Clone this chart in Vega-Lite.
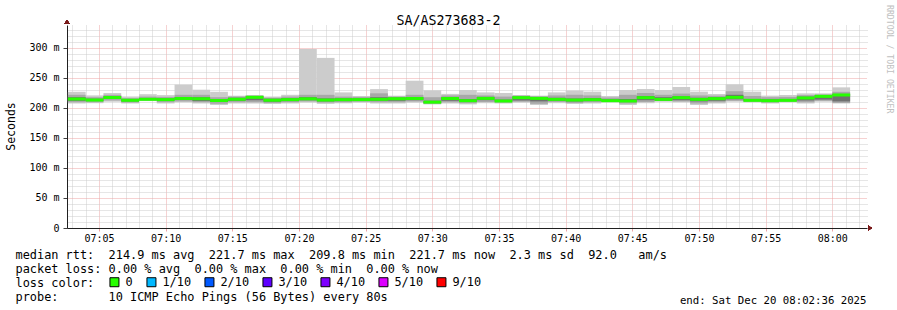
{
  "$schema": "https://vega.github.io/schema/vega-lite/v6.json",
  "width": 800,
  "height": 203,
  "autosize": {"type": "none"},
  "padding": {"left": 67, "top": 25, "right": 30, "bottom": 82},
  "background": "white",
  "title": {
    "text": "RRDTOOL / TOBI OETIKER",
    "orient": "right",
    "anchor": "start",
    "frame": "group",
    "angle": 90,
    "dx": -20,
    "offset": 13,
    "font": "DejaVu Sans Mono",
    "fontSize": 8.2,
    "fontWeight": "normal",
    "color": "#c0c0c0"
  },
  "config": {
    "view": {"stroke": null},
    "axis": {"titleFontWeight": "normal", "titleFont": "DejaVu Sans Mono", "labelFont": "DejaVu Sans Mono", "titleColor": "black", "labelColor": "black"}
  },
  "resolve": {"axis": {"x": "independent", "y": "independent"}},
  "data": {
    "values": [
      {"t": "2025-12-20T07:02:40Z", "t2": "2025-12-20T07:04:00Z", "lo1": 207.5, "lo2": 209.5, "lo3": 212, "med": 215, "hi3": 218, "hi2": 222, "hi1": 227, "loss": "0"},
      {"t": "2025-12-20T07:04:00Z", "t2": "2025-12-20T07:05:20Z", "lo1": 208, "lo2": 209.5, "lo3": 211.5, "med": 213.5, "hi3": 215.5, "hi2": 218, "hi1": 221, "loss": "0"},
      {"t": "2025-12-20T07:05:20Z", "t2": "2025-12-20T07:06:40Z", "lo1": 210.5, "lo2": 212.5, "lo3": 215, "med": 217.5, "hi3": 219.5, "hi2": 222, "hi1": 225, "loss": "0"},
      {"t": "2025-12-20T07:06:40Z", "t2": "2025-12-20T07:08:00Z", "lo1": 207.5, "lo2": 209, "lo3": 211, "med": 212.8, "hi3": 214.5, "hi2": 216.5, "hi1": 218.5, "loss": "0"},
      {"t": "2025-12-20T07:08:00Z", "t2": "2025-12-20T07:09:20Z", "lo1": 211.5, "lo2": 212.5, "lo3": 213.5, "med": 214.5, "hi3": 216, "hi2": 219, "hi1": 223, "loss": "0"},
      {"t": "2025-12-20T07:09:20Z", "t2": "2025-12-20T07:10:40Z", "lo1": 207.5, "lo2": 209.5, "lo3": 212, "med": 214, "hi3": 216, "hi2": 218.5, "hi1": 221.5, "loss": "0"},
      {"t": "2025-12-20T07:10:40Z", "t2": "2025-12-20T07:12:00Z", "lo1": 209.5, "lo2": 211, "lo3": 213.5, "med": 215.8, "hi3": 218, "hi2": 222, "hi1": 239, "loss": "0"},
      {"t": "2025-12-20T07:12:00Z", "t2": "2025-12-20T07:13:20Z", "lo1": 207.5, "lo2": 209.5, "lo3": 211.5, "med": 215.5, "hi3": 218, "hi2": 222, "hi1": 230.5, "loss": "0"},
      {"t": "2025-12-20T07:13:20Z", "t2": "2025-12-20T07:14:40Z", "lo1": 205, "lo2": 207, "lo3": 210, "med": 212.5, "hi3": 214.5, "hi2": 218, "hi1": 227, "loss": "0"},
      {"t": "2025-12-20T07:14:40Z", "t2": "2025-12-20T07:16:00Z", "lo1": 207.5, "lo2": 209.5, "lo3": 212, "med": 214.6, "hi3": 217, "hi2": 219, "hi1": 220.5, "loss": "0"},
      {"t": "2025-12-20T07:16:00Z", "t2": "2025-12-20T07:17:20Z", "lo1": 207.5, "lo2": 209.5, "lo3": 213, "med": 217.8, "hi3": 219.5, "hi2": 220.5, "hi1": 221.5, "loss": "0"},
      {"t": "2025-12-20T07:17:20Z", "t2": "2025-12-20T07:18:40Z", "lo1": 206.8, "lo2": 208.5, "lo3": 210.5, "med": 213, "hi3": 215.5, "hi2": 217, "hi1": 218.5, "loss": "0"},
      {"t": "2025-12-20T07:18:40Z", "t2": "2025-12-20T07:20:00Z", "lo1": 207.5, "lo2": 209.5, "lo3": 211.5, "med": 214, "hi3": 216.5, "hi2": 219, "hi1": 222, "loss": "0"},
      {"t": "2025-12-20T07:20:00Z", "t2": "2025-12-20T07:21:20Z", "lo1": 209, "lo2": 211, "lo3": 213, "med": 215.3, "hi3": 218, "hi2": 222, "hi1": 298.5, "loss": "0"},
      {"t": "2025-12-20T07:21:20Z", "t2": "2025-12-20T07:22:40Z", "lo1": 206.8, "lo2": 209, "lo3": 211, "med": 213.5, "hi3": 216, "hi2": 222, "hi1": 283.5, "loss": "0"},
      {"t": "2025-12-20T07:22:40Z", "t2": "2025-12-20T07:24:00Z", "lo1": 207.8, "lo2": 209.5, "lo3": 211.5, "med": 213.9, "hi3": 216, "hi2": 219, "hi1": 226, "loss": "0"},
      {"t": "2025-12-20T07:24:00Z", "t2": "2025-12-20T07:25:20Z", "lo1": 209, "lo2": 210.5, "lo3": 212, "med": 214, "hi3": 216, "hi2": 218.5, "hi1": 220, "loss": "0"},
      {"t": "2025-12-20T07:25:20Z", "t2": "2025-12-20T07:26:40Z", "lo1": 207.5, "lo2": 209.5, "lo3": 212, "med": 214.5, "hi3": 218, "hi2": 224.5, "hi1": 231.5, "loss": "0"},
      {"t": "2025-12-20T07:26:40Z", "t2": "2025-12-20T07:28:00Z", "lo1": 207.5, "lo2": 209.5, "lo3": 212, "med": 215.4, "hi3": 217.5, "hi2": 219, "hi1": 220.5, "loss": "0"},
      {"t": "2025-12-20T07:28:00Z", "t2": "2025-12-20T07:29:20Z", "lo1": 209, "lo2": 211, "lo3": 213, "med": 215.8, "hi3": 218, "hi2": 222, "hi1": 245.5, "loss": "0"},
      {"t": "2025-12-20T07:29:20Z", "t2": "2025-12-20T07:30:40Z", "lo1": 206, "lo2": 207, "lo3": 208.2, "med": 209.8, "hi3": 212, "hi2": 218, "hi1": 229.5, "loss": "0"},
      {"t": "2025-12-20T07:30:40Z", "t2": "2025-12-20T07:32:00Z", "lo1": 207.5, "lo2": 209.5, "lo3": 212, "med": 215.8, "hi3": 218, "hi2": 221, "hi1": 223.5, "loss": "0"},
      {"t": "2025-12-20T07:32:00Z", "t2": "2025-12-20T07:33:20Z", "lo1": 206, "lo2": 208, "lo3": 210, "med": 212.2, "hi3": 215, "hi2": 222, "hi1": 230, "loss": "0"},
      {"t": "2025-12-20T07:33:20Z", "t2": "2025-12-20T07:34:40Z", "lo1": 208, "lo2": 210, "lo3": 213, "med": 216, "hi3": 218.5, "hi2": 221, "hi1": 226, "loss": "0"},
      {"t": "2025-12-20T07:34:40Z", "t2": "2025-12-20T07:36:00Z", "lo1": 207.5, "lo2": 209, "lo3": 210.5, "med": 211.7, "hi3": 214, "hi2": 219, "hi1": 225, "loss": "0"},
      {"t": "2025-12-20T07:36:00Z", "t2": "2025-12-20T07:37:20Z", "lo1": 209, "lo2": 210.5, "lo3": 212.5, "med": 217.2, "hi3": 219, "hi2": 220.5, "hi1": 221.7, "loss": "0"},
      {"t": "2025-12-20T07:37:20Z", "t2": "2025-12-20T07:38:40Z", "lo1": 205, "lo2": 207, "lo3": 211, "med": 216, "hi3": 218, "hi2": 219.5, "hi1": 220.6, "loss": "0"},
      {"t": "2025-12-20T07:38:40Z", "t2": "2025-12-20T07:40:00Z", "lo1": 208, "lo2": 210, "lo3": 212, "med": 214.4, "hi3": 217, "hi2": 221, "hi1": 226, "loss": "0"},
      {"t": "2025-12-20T07:40:00Z", "t2": "2025-12-20T07:41:20Z", "lo1": 206.5, "lo2": 208.5, "lo3": 211, "med": 213.3, "hi3": 216, "hi2": 222, "hi1": 229, "loss": "0"},
      {"t": "2025-12-20T07:41:20Z", "t2": "2025-12-20T07:42:40Z", "lo1": 207.5, "lo2": 209.5, "lo3": 211.5, "med": 213.9, "hi3": 216.5, "hi2": 221, "hi1": 227.2, "loss": "0"},
      {"t": "2025-12-20T07:42:40Z", "t2": "2025-12-20T07:44:00Z", "lo1": 209.5, "lo2": 210.5, "lo3": 211.5, "med": 212.2, "hi3": 214.5, "hi2": 217.5, "hi1": 220, "loss": "0"},
      {"t": "2025-12-20T07:44:00Z", "t2": "2025-12-20T07:45:20Z", "lo1": 205, "lo2": 207.5, "lo3": 210, "med": 211.7, "hi3": 215, "hi2": 222, "hi1": 230, "loss": "0"},
      {"t": "2025-12-20T07:45:20Z", "t2": "2025-12-20T07:46:40Z", "lo1": 208, "lo2": 210, "lo3": 213, "med": 217.2, "hi3": 220, "hi2": 225, "hi1": 231.7, "loss": "0"},
      {"t": "2025-12-20T07:46:40Z", "t2": "2025-12-20T07:48:00Z", "lo1": 210.5, "lo2": 211.5, "lo3": 212.5, "med": 214.4, "hi3": 218, "hi2": 222, "hi1": 230, "loss": "0"},
      {"t": "2025-12-20T07:48:00Z", "t2": "2025-12-20T07:49:20Z", "lo1": 209.5, "lo2": 211, "lo3": 213, "med": 217.2, "hi3": 219.5, "hi2": 224, "hi1": 235, "loss": "0"},
      {"t": "2025-12-20T07:49:20Z", "t2": "2025-12-20T07:50:40Z", "lo1": 205, "lo2": 207.5, "lo3": 211, "med": 214.4, "hi3": 217, "hi2": 221, "hi1": 227.2, "loss": "0"},
      {"t": "2025-12-20T07:50:40Z", "t2": "2025-12-20T07:52:00Z", "lo1": 207.5, "lo2": 209.5, "lo3": 212, "med": 215.6, "hi3": 218, "hi2": 220.5, "hi1": 223.3, "loss": "0"},
      {"t": "2025-12-20T07:52:00Z", "t2": "2025-12-20T07:53:20Z", "lo1": 210.5, "lo2": 212, "lo3": 214.5, "med": 217.8, "hi3": 222, "hi2": 228, "hi1": 239.4, "loss": "0"},
      {"t": "2025-12-20T07:53:20Z", "t2": "2025-12-20T07:54:40Z", "lo1": 209.5, "lo2": 210.5, "lo3": 211.5, "med": 212.8, "hi3": 215, "hi2": 220, "hi1": 227.2, "loss": "0"},
      {"t": "2025-12-20T07:54:40Z", "t2": "2025-12-20T07:56:00Z", "lo1": 207.5, "lo2": 209, "lo3": 210.5, "med": 212.2, "hi3": 214.5, "hi2": 218, "hi1": 220.6, "loss": "0"},
      {"t": "2025-12-20T07:56:00Z", "t2": "2025-12-20T07:57:20Z", "lo1": 209.5, "lo2": 210.5, "lo3": 211.5, "med": 212.8, "hi3": 215, "hi2": 218.5, "hi1": 221.7, "loss": "0"},
      {"t": "2025-12-20T07:57:20Z", "t2": "2025-12-20T07:58:40Z", "lo1": 207.5, "lo2": 209.5, "lo3": 212.5, "med": 216.7, "hi3": 219, "hi2": 221.5, "hi1": 224.4, "loss": "0"},
      {"t": "2025-12-20T07:58:40Z", "t2": "2025-12-20T08:00:00Z", "lo1": 210.5, "lo2": 212, "lo3": 214, "med": 219.4, "hi3": 221, "hi2": 222.5, "hi1": 224.4, "loss": "0"},
      {"t": "2025-12-20T08:00:00Z", "t2": "2025-12-20T08:01:20Z", "lo1": 207.5, "lo2": 208.5, "lo3": 211, "med": 221.7, "hi3": 223.5, "hi2": 227, "hi1": 234.4, "loss": "0"}
    ]
  },
  "layer": [
    {
      "mark": {"type": "rect", "color": "#cccccc", "opacity": 1},
      "encoding": {
        "x": {
          "field": "t", "type": "temporal",
          "scale": {"type": "utc", "domain": [1766214156000, 1766217756000]},
          "axis": {
            "orient": "top", "grid": true, "gridColor": "#cdcdcd", "gridDash": [1, 1], "gridWidth": 1,
            "values": [1766214180000, 1766214240000, 1766214360000, 1766214420000, 1766214480000, 1766214540000, 1766214660000, 1766214720000, 1766214780000, 1766214840000, 1766214960000, 1766215020000, 1766215080000, 1766215140000, 1766215260000, 1766215320000, 1766215380000, 1766215440000, 1766215560000, 1766215620000, 1766215680000, 1766215740000, 1766215860000, 1766215920000, 1766215980000, 1766216040000, 1766216160000, 1766216220000, 1766216280000, 1766216340000, 1766216460000, 1766216520000, 1766216580000, 1766216640000, 1766216760000, 1766216820000, 1766216880000, 1766216940000, 1766217060000, 1766217120000, 1766217180000, 1766217240000, 1766217360000, 1766217420000, 1766217480000, 1766217540000, 1766217660000, 1766217720000],
            "labels": false, "ticks": false, "domain": false,
            "title": "SA/AS273683-2", "titleX": 381, "titleY": -1, "titleAlign": "center", "titleBaseline": "alphabetic", "titleAngle": 0, "titleFontSize": 13.3
          }
        },
        "x2": {"field": "t2"},
        "y": {
          "field": "lo1", "type": "quantitative",
          "scale": {"domain": [0, 338.33], "nice": false, "zero": true},
          "axis": {
            "orient": "right", "grid": true, "gridColor": "#cdcdcd", "gridDash": [1, 1], "gridWidth": 1,
            "values": [10, 20, 30, 40, 60, 70, 80, 90, 110, 120, 130, 140, 160, 170, 180, 190, 210, 220, 230, 240, 260, 270, 280, 290, 310, 320, 330],
            "labels": false, "ticks": false, "domain": false,
            "title": "end: Sat Dec 20 08:02:36 2025", "titleAngle": 0, "titleX": -1, "titleY": 278, "titleAlign": "right", "titleBaseline": "alphabetic", "titleFontSize": 10.7
          }
        },
        "y2": {"field": "hi1"}
      }
    },
    {
      "mark": {"type": "rect", "color": "#a8a8a8", "opacity": 1},
      "encoding": {
        "x": {
          "field": "t", "type": "temporal",
          "axis": {
            "orient": "bottom", "grid": true, "gridColor": "#eda5a5", "gridDash": [1, 1], "gridWidth": 1,
            "values": [1766214300000, 1766214600000, 1766214900000, 1766215200000, 1766215500000, 1766215800000, 1766216100000, 1766216400000, 1766216700000, 1766217000000, 1766217300000, 1766217600000],
            "format": "%H:%M", "labelFontSize": 10, "labelPadding": 2, "labelFlush": false, "labelOverlap": false,
            "ticks": true, "tickSize": 3, "tickColor": "#eda5a5",
            "domain": true, "domainColor": "#202020", "domainWidth": 1,
            "title": [
              "median rtt:\u00a0\u00a0214.9 ms avg\u00a0\u00a0221.7 ms max\u00a0\u00a0209.8 ms min\u00a0\u00a0221.7 ms now\u00a0\u00a02.3 ms sd\u00a0\u00a092.0\u00a0\u00a0\u00a0am/s",
              "packet loss: 0.00 % avg\u00a0\u00a00.00 % max\u00a0\u00a00.00 % min\u00a0\u00a00.00 % now",
              "loss color:",
              "probe:\u00a0\u00a0\u00a0\u00a0\u00a0\u00a0\u00a010 ICMP Echo Pings (56 Bytes) every 80s"
            ],
            "titleX": -52, "titleY": 30.5, "titleAlign": "left", "titleBaseline": "alphabetic", "titleFontSize": 11.9, "titleLineHeight": 14
          }
        },
        "x2": {"field": "t2"},
        "y": {
          "field": "lo2", "type": "quantitative",
          "axis": {
            "orient": "left", "grid": true, "gridColor": "#eda5a5", "gridDash": [1, 1], "gridWidth": 1,
            "values": [0, 50, 100, 150, 200, 250, 300],
            "labelExpr": "datum.value === 0 ? '0' : datum.value + ' m'",
            "labelFontSize": 10, "labelPadding": 4,
            "ticks": true, "tickSize": 4, "tickColor": "#404040",
            "domain": true, "domainColor": "#202020", "domainWidth": 1,
            "title": "Seconds", "titleX": -56, "titleY": 101, "titleAngle": 270, "titleAlign": "center", "titleBaseline": "middle", "titleFontSize": 11.5
          }
        },
        "y2": {"field": "hi2"}
      }
    },
    {
      "mark": {"type": "rect", "color": "#707070", "opacity": 1},
      "encoding": {
        "x": {"field": "t", "type": "temporal", "axis": null},
        "x2": {"field": "t2"},
        "y": {"field": "lo3", "type": "quantitative", "axis": null},
        "y2": {"field": "hi3"}
      }
    },
    {
      "mark": {"type": "tick", "orient": "horizontal", "thickness": 3, "size": 17.8, "xOffset": 8.9, "opacity": 1},
      "encoding": {
        "x": {"field": "t", "type": "temporal", "axis": null},
        "y": {"field": "med", "type": "quantitative", "axis": null},
        "color": {
          "field": "loss", "type": "nominal",
          "scale": {"domain": ["0", "1/10", "2/10", "3/10", "4/10", "5/10", "9/10"], "range": ["#26ff00", "#00b8ff", "#0059ff", "#5e00ff", "#7e00ff", "#dd00ff", "#ff0000"]},
          "legend": {
            "orient": "none", "legendX": 41.5, "legendY": 251, "direction": "horizontal", "title": null,
            "symbolType": "square", "symbolSize": 81, "symbolStrokeColor": "black", "symbolStrokeWidth": 1, "symbolOpacity": 1,
            "labelFont": "DejaVu Sans Mono", "labelFontSize": 11.9, "labelColor": "black", "labelOffset": 5,
            "columnPadding": 11, "padding": 0, "rowPadding": 0
          }
        }
      }
    },
    {
      "mark": {"type": "point", "shape": "triangle-right", "filled": true, "size": 22, "color": "#7a1a1a", "opacity": 1, "xOffset": 3},
      "encoding": {
        "x": {"datum": 1766217756000, "type": "temporal", "axis": null},
        "y": {"datum": 0, "type": "quantitative", "axis": null}
      }
    },
    {
      "mark": {"type": "point", "shape": "triangle-up", "filled": true, "size": 22, "color": "#7a1a1a", "opacity": 1, "yOffset": -3},
      "encoding": {
        "x": {"datum": 1766214156000, "type": "temporal", "axis": null},
        "y": {"datum": 338.33, "type": "quantitative", "axis": null}
      }
    }
  ]
}
